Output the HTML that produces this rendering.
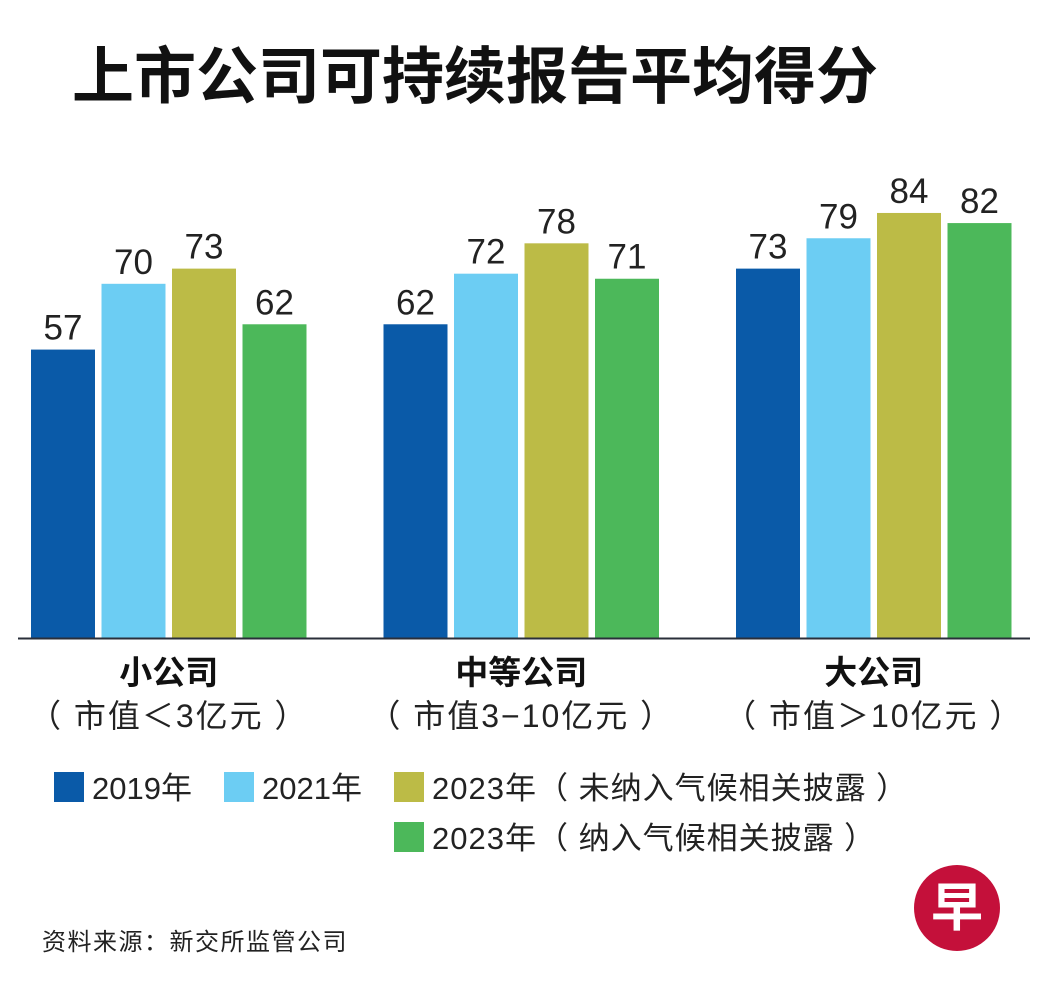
<!DOCTYPE html>
<html><head><meta charset="utf-8"><style>
body{margin:0;background:#fff;}
svg{display:block;font-family:"Liberation Sans","Noto Sans CJK SC",sans-serif;}
</style></head><body>
<svg id="chart" width="1042" height="994" viewBox="0 0 1042 994">
<text x="72" y="98" font-size="62" font-weight="bold" fill="#111">上市公司可持续报告平均得分</text>
<g id="bars"></g>
<line x1="18" y1="638.5" x2="1030" y2="638.5" stroke="#2a2f3a" stroke-width="2"/>
<g id="cats"></g>
<g>
 <g><rect x="54" y="772" width="30" height="30" fill="#0a5aa8"/><text x="92" y="799" font-size="31" fill="#222">2019年</text></g>
 <g><rect x="224" y="772" width="30" height="30" fill="#6ccdf3"/><text x="262" y="799" font-size="31" fill="#222">2021年</text></g>
 <g><rect x="394" y="772" width="30" height="30" fill="#bcbb46"/><text x="432" y="799" font-size="31" letter-spacing="1" fill="#222">2023年（ 未纳入气候相关披露 ）</text></g>
 <g><rect x="394" y="822" width="30" height="30" fill="#4cb85a"/><text x="432" y="849" font-size="31" letter-spacing="1" fill="#222">2023年（ 纳入气候相关披露 ）</text></g>
</g>
<text x="42" y="950" font-size="24" letter-spacing="1.5" fill="#222">资料来源：新交所监管公司</text>
<g><circle cx="957" cy="908" r="43" fill="#c4103a"/><text x="957" y="926" font-size="52" font-weight="bold" fill="#fff" text-anchor="middle">早</text></g>
</svg>
<script>
const categories=["小公司","中等公司","大公司"];
const subtitles=["（ 市值＜3亿元 ）","（ 市值3−10亿元 ）","（ 市值＞10亿元 ）"];
const s2019=[57,62,73];
const s2021=[70,72,79];
const s2023a=[73,78,84];
const s2023b=[62,71,82];
const series=[s2019,s2021,s2023a,s2023b];
const colors=["#0a5aa8","#6ccdf3","#bcbb46","#4cb85a"];
const NS="http://www.w3.org/2000/svg";
const base=638, k=5.06;
function y(v){return base-v*k;}
function gx(g){return 31+g*352.5;}
const bw=64, step=70.5;
const bars=document.getElementById('bars'), cats=document.getElementById('cats');
categories.forEach((c,g)=>{
  series.forEach((s,i)=>{
    const x=gx(g)+i*step;
    const r=document.createElementNS(NS,'rect');
    r.setAttribute('x',x);r.setAttribute('y',y(s[g]));r.setAttribute('width',bw);r.setAttribute('height',base-y(s[g]));r.setAttribute('fill',colors[i]);
    
    
    bars.appendChild(r);
    const t=document.createElementNS(NS,'text');
    t.setAttribute('x',x+bw/2);t.setAttribute('y',y(s[g])-10);t.setAttribute('text-anchor','middle');t.setAttribute('font-size','35');t.setAttribute('fill','#222');
    t.textContent=s[g];
    
    
    bars.appendChild(t);
  });
  const cx=gx(g)+(3*step+bw)/2;
  const t=document.createElementNS(NS,'text');
  t.setAttribute('x',cx);t.setAttribute('y',684);t.setAttribute('text-anchor','middle');t.setAttribute('font-size','33');t.setAttribute('font-weight','bold');t.setAttribute('fill','#111');
  t.textContent=c;
  
  
  cats.appendChild(t);
  const st=document.createElementNS(NS,'text');
  st.setAttribute('x',cx);st.setAttribute('y',727);st.setAttribute('text-anchor','middle');st.setAttribute('font-size','32');st.setAttribute('letter-spacing','2');st.setAttribute('fill','#222');
  st.textContent=subtitles[g];
  
  
  cats.appendChild(st);
});
</script>
</body></html>
